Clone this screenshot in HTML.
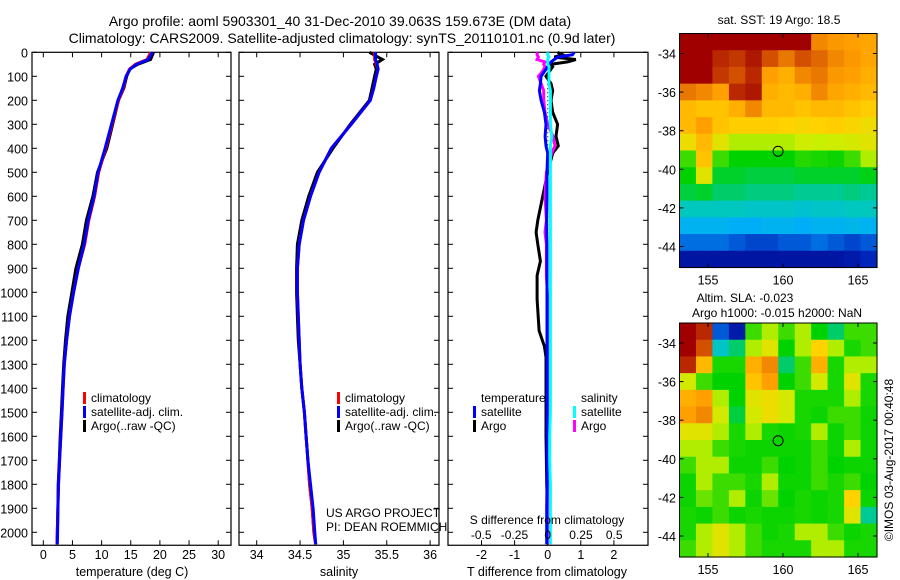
<!DOCTYPE html>
<html><head><meta charset="utf-8"><style>
html,body{margin:0;padding:0;background:#fff;}
svg{display:block;font-family:"Liberation Sans",sans-serif;}
text{fill:#000;}
</style></head><body>
<svg id="fig" width="900" height="580" viewBox="0 0 900 580" xmlns="http://www.w3.org/2000/svg">
<text x="340" y="26" font-size="14" text-anchor="middle">Argo profile: aoml 5903301_40 31-Dec-2010 39.063S 159.673E (DM data)</text>
<text x="342" y="43" font-size="14" text-anchor="middle">Climatology: CARS2009. Satellite-adjusted climatology: synTS_20110101.nc (0.9d later)</text>
<g id="g1"></g>
<g id="g2"></g>
<g id="g3"></g>
<g id="m1"></g>
<g id="m2"></g>
</svg>
<script>
// ---- data ----
const depths = [0,30,50,70,100,150,200,300,400,500,600,700,800,900,1000,1100,1200,1300,1400,1500,1600,1700,1800,1900,2000,2050];
const tClim = [18.4,17.8,15.8,14.8,14.2,13.7,12.9,11.8,10.7,9.5,8.8,7.8,7.1,6.0,5.2,4.5,4.0,3.6,3.4,3.2,3.0,2.8,2.6,2.5,2.4,2.35];
const tSat  = [18.7,18.0,16.0,14.9,14.2,13.6,12.8,11.7,10.6,9.4,8.7,7.7,7.0,6.0,5.2,4.5,4.0,3.6,3.4,3.2,3.0,2.8,2.6,2.5,2.45,2.4];
const tArgo = [18.9,18.4,16.2,14.8,14.3,13.8,12.9,11.9,10.9,9.3,8.5,7.4,6.7,5.6,4.9,4.2,3.8,3.5,3.3,3.1,2.9,2.75,2.55,2.5,2.4,2.35];
const sClim = [35.36,35.36,35.38,35.40,35.38,35.35,35.31,35.09,34.86,34.72,34.62,34.54,34.49,34.47,34.47,34.48,34.49,34.5,34.52,34.55,34.57,34.59,34.61,34.64,34.66,34.68];
const sSat  = [35.37,35.37,35.39,35.40,35.38,35.35,35.31,35.09,34.86,34.72,34.62,34.54,34.49,34.47,34.47,34.48,34.49,34.5,34.52,34.55,34.57,34.59,34.62,34.65,34.67,34.68];
const sArgo = [35.30,35.45,35.36,35.38,35.36,35.33,35.30,35.08,34.88,34.70,34.60,34.52,34.47,34.46,34.46,34.47,34.48,34.5,34.52,34.55,34.57,34.59,34.61,34.64,34.66,34.68];
const diffDepths = [0,10,20,30,40,50,60,80,100,130,160,200,250,300,350,390,420,500,600,700,750,800,870,930,1030,1160,1225,1270,1400,1500,1600,1700,1800,1900,2000,2050];
const dTargo = [0.3,0.45,0.2,0.85,0.6,0.1,0.15,0.05,-0.05,0.1,0.15,0.1,0.15,0.3,0.25,0.32,0.15,0.0,-0.15,-0.3,-0.35,-0.3,-0.22,-0.32,-0.32,-0.26,-0.1,-0.05,-0.05,-0.05,-0.05,-0.04,-0.03,0,0,0];
const dTsat  = [0.8,0.75,0.3,0.2,0.1,0.05,0.0,-0.1,-0.2,-0.22,-0.25,-0.2,-0.1,-0.05,-0.08,-0.05,0.0,-0.02,-0.02,-0.03,-0.03,-0.02,-0.02,-0.02,-0.02,-0.02,-0.02,-0.02,-0.02,-0.02,-0.02,-0.02,-0.02,-0.03,-0.03,-0.03];
const dSargo = [-0.08,-0.08,-0.07,-0.08,-0.02,-0.03,-0.02,-0.04,-0.07,-0.05,-0.03,-0.03,-0.02,0.0,0.04,0.055,0.03,-0.01,-0.02,-0.01,-0.02,-0.01,-0.01,-0.01,0.0,0.0,0.005,0.01,0.01,0.01,0.005,0.0,0.005,0.0,0.0,0.0];
const dSsat  = [0.0,0.0,0.01,0.0,0.0,0.0,0.01,0.01,0.01,0.01,0.02,0.02,0.02,0.02,0.03,0.02,0.02,0.02,0.02,0.02,0.02,0.02,0.02,0.02,0.02,0.02,0.02,0.02,0.02,0.02,0.015,0.015,0.02,0.02,0.02,0.02];
const depthTicks = [0,100,200,300,400,500,600,700,800,900,1000,1100,1200,1300,1400,1500,1600,1700,1800,1900,2000];
const tTicks = [0,5,10,15,20,25,30];
const sTicks = [34,34.5,35,35.5,36];
const sTickLabels = ["34","34.5","35","35.5","36"];
const dTTicks = [-2,-1,0,1,2];
const dSTicks = [-0.5,-0.25,0,0.25,0.5];
const dSTickLabels = ["-0.5","-0.25","0","0.25","0.5"];
const latTicks = [-34,-36,-38,-40,-42,-44];
const lonTicks = [155,160,165];
const argoLon = 159.673, argoLat = -39.063;
const sstGrid = [
[.95,.95,.95,.95,.95,.95,.95,.95,.78,.76,.75,.74],
[.95,.95,.9,.88,.92,.85,.8,.85,.82,.78,.76,.74],
[.95,.95,.88,.85,.9,.75,.72,.78,.8,.76,.75,.72],
[.8,.78,.75,.9,.92,.72,.7,.72,.78,.74,.72,.7],
[.7,.68,.68,.72,.78,.7,.7,.68,.7,.7,.68,.66],
[.7,.75,.68,.66,.66,.66,.65,.64,.65,.66,.64,.62],
[.62,.7,.6,.55,.55,.55,.55,.57,.56,.57,.58,.6],
[.5,.68,.5,.45,.45,.45,.45,.48,.47,.46,.5,.55],
[.45,.6,.43,.43,.42,.42,.42,.43,.43,.43,.43,.44],
[.42,.43,.4,.4,.39,.39,.39,.38,.38,.38,.39,.38],
[.36,.36,.36,.36,.35,.35,.35,.34,.35,.35,.36,.36],
[.3,.3,.3,.29,.29,.3,.3,.29,.3,.3,.31,.3],
[.22,.22,.22,.2,.18,.18,.2,.2,.22,.2,.18,.2],
[.08,.08,.08,.08,.08,.08,.08,.08,.08,.08,.1,.14]];
const slaGrid = [
[.95,.9,.2,.1,.5,.55,.5,.55,.45,.4,.5,.5],
[.95,.85,.35,.4,.55,.6,.45,.55,.65,.55,.47,.5],
[.9,.7,.47,.47,.72,.78,.4,.5,.72,.47,.55,.55],
[.58,.5,.45,.45,.68,.75,.45,.5,.58,.47,.6,.47],
[.72,.75,.55,.45,.6,.62,.58,.47,.47,.47,.55,.47],
[.75,.78,.58,.42,.58,.62,.58,.47,.46,.5,.5,.46],
[.6,.6,.55,.47,.55,.47,.46,.47,.55,.46,.5,.46],
[.55,.55,.5,.47,.46,.46,.46,.46,.5,.46,.55,.46],
[.5,.55,.55,.46,.46,.5,.45,.46,.5,.45,.46,.46],
[.46,.55,.5,.5,.47,.55,.46,.46,.5,.47,.5,.45],
[.46,.52,.5,.55,.46,.52,.45,.47,.46,.47,.65,.46],
[.47,.46,.5,.46,.47,.46,.46,.47,.46,.47,.6,.38],
[.47,.55,.6,.55,.5,.46,.47,.55,.55,.5,.46,.47],
[.5,.55,.6,.55,.5,.47,.47,.47,.55,.55,.47,.47]];

const NS="http://www.w3.org/2000/svg";
function el(parent,tag,attrs,txt){const e=document.createElementNS(NS,tag);for(const k in attrs)e.setAttribute(k,attrs[k]);if(txt!==undefined)e.textContent=txt;parent.appendChild(e);return e;}
const TOP=52.3, PXD=0.24;
const yD = d => TOP + d*PXD;
const BOT = yD(2054);

function frame(g,x0,x1,name){
  const r=el(g,'rect',{x:x0,y:TOP,width:x1-x0,height:BOT-TOP,fill:'none',stroke:'#000','stroke-width':1.2});
  
  
  depthTicks.forEach(d=>{
    el(g,'line',{x1:x0,x2:x0+5,y1:yD(d),y2:yD(d),stroke:'#000'});
    el(g,'line',{x1:x1-5,x2:x1,y1:yD(d),y2:yD(d),stroke:'#000'});
  });
}
function xTicks(g,xs,labels,yLab,fs){
  xs.forEach((x,i)=>{
    el(g,'line',{x1:x,x2:x,y1:BOT,y2:BOT-5,stroke:'#000'});
    el(g,'line',{x1:x,x2:x,y1:TOP,y2:TOP+5,stroke:'#000'});
    const t=el(g,'text',{x:x,y:yLab,'font-size':fs||12.5,'text-anchor':'middle'},labels[i]);
    
    
  });
}
function line(g,xs,ys,color,w,name){
  const pts=xs.map((x,i)=>x.toFixed(1)+','+ys[i].toFixed(1)).join(' ');
  const p=el(g,'polyline',{points:pts,fill:'none',stroke:color,'stroke-width':w||3,'stroke-linejoin':'miter'});
  
  
}
function legend(g,x,y,color,label){
  el(g,'rect',{x:x,y:y-10,width:3,height:12,fill:color});
  const t=el(g,'text',{x:x+8,y:y,'font-size':12},label);
  
  
}

// Panel 1 temperature
const g1=document.getElementById('g1');
const xT = t => 43.3 + t*5.83;
frame(g1,32,231,'temperature-axes');
depthTicks.forEach(d=>{const t=el(g1,'text',{x:28,y:yD(d)+5,'font-size':12.5,'text-anchor':'end'},String(d));});
xTicks(g1,tTicks.map(xT),tTicks.map(String),559);
line(g1,tArgo.map(xT),depths.map(yD),'#000',3,'temperature-argo-line');
line(g1,tClim.map(xT),depths.map(yD),'#f00',3,'temperature-climatology-line');
line(g1,tSat.map(xT),depths.map(yD),'#00f',3,'temperature-satellite-line');
legend(g1,83,402,'#f00','climatology');
legend(g1,83,416,'#00f','satellite-adj. clim.');
legend(g1,83,430,'#000','Argo(..raw -QC)');
el(g1,'text',{x:132,y:576,'font-size':12.5,'text-anchor':'middle'},'temperature (deg C)');

// Panel 2 salinity
const g2=document.getElementById('g2');
const xS = s => 256.7 + (s-34)*86.7;
frame(g2,239,439,'salinity-axes');
xTicks(g2,sTicks.map(xS),sTickLabels,559);
line(g2,sArgo.map(xS),depths.map(yD),'#000',3,'salinity-argo-line');
line(g2,sClim.map(xS),depths.map(yD),'#f00',3,'salinity-climatology-line');
line(g2,sSat.map(xS),depths.map(yD),'#00f',3,'salinity-satellite-line');
legend(g2,337,402,'#f00','climatology');
legend(g2,337,416,'#00f','satellite-adj. clim.');
legend(g2,337,430,'#000','Argo(..raw -QC)');
el(g2,'text',{x:339,y:576,'font-size':12.5,'text-anchor':'middle'},'salinity');
el(g2,'text',{x:326,y:517,'font-size':12},'US ARGO PROJECT');
el(g2,'text',{x:326,y:531,'font-size':12},'PI: DEAN ROEMMICH');

// Panel 3 differences
const g3=document.getElementById('g3');
const xDT = d => 547.7 + d*33.1;
const xDS = d => 547.7 + d*133;
el(g3,'rect',{x:448,y:TOP,width:200,height:BOT-TOP,fill:'#fff'});
frame(g3,448,648,'difference-axes');
xTicks(g3,dTTicks.map(xDT),dTTicks.map(String),559);
el(g3,'line',{x1:xDT(0),x2:xDT(0),y1:TOP,y2:BOT,stroke:'#000','stroke-dasharray':'1,3'});
line(g3,dTargo.map(xDT),diffDepths.map(yD),'#000',3,'t-diff-argo-line');
line(g3,dSargo.map(xDS),diffDepths.map(yD),'#f0f',3,'s-diff-argo-line');
line(g3,dTsat.map(xDT),diffDepths.map(yD),'#00f',3,'t-diff-satellite-line');
line(g3,dSsat.map(xDS),diffDepths.map(yD),'#0ff',3,'s-diff-satellite-line');
el(g3,'text',{x:481,y:402,'font-size':12},'temperature');
el(g3,'text',{x:581,y:402,'font-size':12},'salinity');
legend(g3,473,416,'#00f','satellite');
legend(g3,473,430,'#000','Argo');
legend(g3,573,416,'#0ff','satellite');
legend(g3,573,430,'#f0f','Argo');
el(g3,'text',{x:547,y:524,'font-size':12,'text-anchor':'middle'},'S difference from climatology');
dSTicks.forEach((d,i)=>{const t=el(g3,'text',{x:xDS(d),y:539,'font-size':12,'text-anchor':'middle'},dSTickLabels[i]);});
el(g3,'text',{x:547,y:576,'font-size':12.5,'text-anchor':'middle'},'T difference from climatology');

// Maps
const cmapStops=[[0,0,0,130],[0.15,0,40,190],[0.28,0,170,255],[0.36,0,200,190],[0.45,0,210,0],[0.5,60,220,0],[0.56,200,240,0],[0.65,255,210,0],[0.75,255,160,0],[0.85,210,80,0],[0.95,160,0,0],[1,160,0,0]];
function cmap(v){
  v=Math.max(0,Math.min(1,v));
  for(let i=1;i<cmapStops.length;i++){
    const a=cmapStops[i-1],b=cmapStops[i];
    if(v<=b[0]){const f=(v-a[0])/(b[0]-a[0]||1);
      return 'rgb('+[1,2,3].map(k=>Math.round(a[k]+(b[k]-a[k])*f)).join(',')+')';}
  }
  return 'rgb(160,0,0)';
}
function map(id,grid,top,titles){
  const g=document.getElementById(id);
  const L=679.5,R=877,B=top+234;
  const lonX = lo => 708 + (lo-155)*15;
  const latY = la => top+20 + (-34-la)*19.3;
  const rows=grid.length, cols=grid[0].length, cw=(R-L)/cols, ch=(B-top)/rows;
  grid.forEach((row,i)=>row.forEach((v,j)=>{
    const c=el(g,'rect',{x:L+j*cw,y:top+i*ch,width:cw+0.6,height:ch+0.6,fill:cmap(v)});
    
    
  }));
  el(g,'rect',{x:L,y:top,width:R-L,height:B-top,fill:'none',stroke:'#000'});
  latTicks.forEach(la=>{
    el(g,'line',{x1:L,x2:L+4,y1:latY(la),y2:latY(la),stroke:'#000'});
    el(g,'line',{x1:R-4,x2:R,y1:latY(la),y2:latY(la),stroke:'#000'});
    const t=el(g,'text',{x:676,y:latY(la)+5,'font-size':12.5,'text-anchor':'end'},String(la));
    
  });
  lonTicks.forEach(lo=>{
    el(g,'line',{x1:lonX(lo),x2:lonX(lo),y1:B,y2:B-4,stroke:'#000'});
    el(g,'line',{x1:lonX(lo),x2:lonX(lo),y1:top,y2:top+4,stroke:'#000'});
    const t=el(g,'text',{x:lonX(lo),y:B+17,'font-size':12.5,'text-anchor':'middle'},String(lo));
    
  });
  const m=el(g,'circle',{cx:lonX(argoLon),cy:latY(argoLat),r:5,fill:'none',stroke:'#000','stroke-width':1});
  
  
  titles.forEach((tt,i)=>{el(g,'text',{x:tt[1],y:tt[2],'font-size':12,'text-anchor':'middle'},tt[0]);});
}
map('m1',sstGrid,33.5,[['sat. SST: 19 Argo: 18.5',779,24]]);
map('m2',slaGrid,323,[['Altim. SLA: -0.023',745,302],['Argo h1000: -0.015 h2000: NaN',777,317]]);
const ts=el(document.getElementById('m2'),'text',{x:0,y:0,'font-size':12,'text-anchor':'middle',transform:'translate(893,460) rotate(-90)'},'©IMOS 03-Aug-2017 00:40:48');


</script>
</body></html>
